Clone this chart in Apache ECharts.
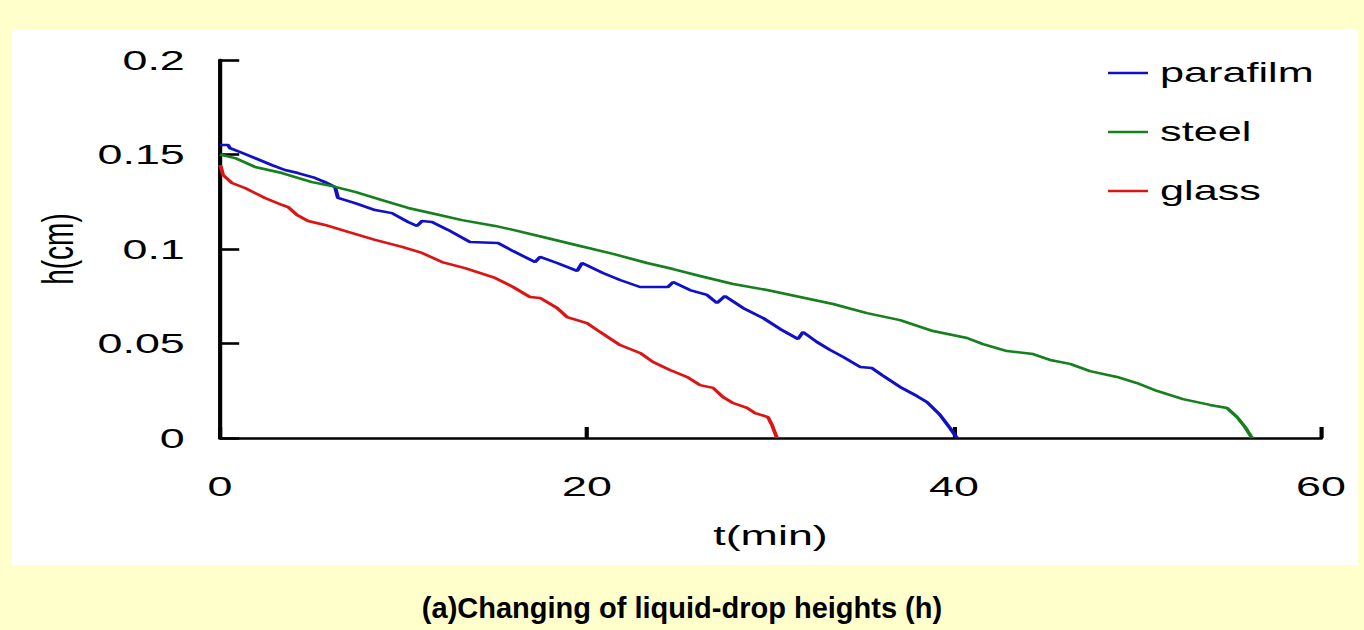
<!DOCTYPE html>
<html>
<head>
<meta charset="utf-8">
<script src="https://cdn.jsdelivr.net/npm/echarts@6/dist/echarts.min.js"></script>
<style>
  html, body { margin: 0; padding: 0; width: 1364px; height: 630px; background: #FFFFCC; overflow: hidden; }
  #panel { position: absolute; left: 12px; top: 29px; width: 1346px; height: 536px; background: #FFFFFF; }
  #chart { position: absolute; left: 0; top: 0; width: 852px; height: 630px; transform-origin: 0 0; }
  #caption { position: absolute; left: 0; top: 565px; width: 1364px; height: 65px; }
</style>
</head>
<body>
<div id="panel"></div>
<div id="chart"></div>
<div id="caption"></div>
<script>
// Drop height h (cm) against time t (min) for three surfaces
const seriesNames = ['parafilm', 'steel', 'glass'];

const parafilmT = [0, 0.44, 0.54, 1.09, 1.91, 2.83, 3.54, 4.25, 5.18, 5.72, 6.27, 6.43, 7.36, 8.45, 9.37, 10.25, 10.74, 11.01, 11.55, 12.43, 13.62, 15.15, 15.97, 17.17, 17.44, 18.37, 19.46, 19.73, 20.87, 21.80, 22.89, 24.41, 24.69, 25.61, 26.54, 27.08, 27.52, 28.50, 29.59, 30.52, 31.50, 31.77, 32.53, 33.24, 33.95, 34.88, 35.53, 36.08, 37.06, 37.98, 38.53, 39.24, 39.78, 40.16];
const parafilmH = [0.155, 0.155, 0.1534, 0.1513, 0.1481, 0.1444, 0.1418, 0.1402, 0.1376, 0.1354, 0.1328, 0.1270, 0.1243, 0.1206, 0.1190, 0.1143, 0.1122, 0.1148, 0.1143, 0.1101, 0.1037, 0.1032, 0.0989, 0.0931, 0.0958, 0.0926, 0.0884, 0.0926, 0.0873, 0.0836, 0.0799, 0.0799, 0.0825, 0.0783, 0.0757, 0.0714, 0.0751, 0.0688, 0.0635, 0.0577, 0.0524, 0.0561, 0.0508, 0.0466, 0.0429, 0.0376, 0.0370, 0.0333, 0.0270, 0.0222, 0.0190, 0.0122, 0.0053, 0];

const steelT = [0, 0.82, 1.91, 3.38, 5.01, 6.10, 7.36, 8.83, 10.25, 11.72, 13.19, 14.99, 15.97, 17.82, 19.62, 21.42, 23.27, 24.69, 26.16, 27.96, 29.81, 31.61, 33.41, 35.26, 37.06, 38.86, 40.71, 41.58, 42.89, 44.31, 45.23, 46.32, 47.41, 48.88, 49.97, 51.06, 52.48, 53.95, 54.88, 55.42, 55.86, 56.24];
const steelH = [0.150, 0.1481, 0.1434, 0.1402, 0.1354, 0.1333, 0.1302, 0.1259, 0.1217, 0.1185, 0.1153, 0.1122, 0.1101, 0.1058, 0.1016, 0.0974, 0.0926, 0.0894, 0.0857, 0.0815, 0.0783, 0.0746, 0.0709, 0.0661, 0.0624, 0.0566, 0.0529, 0.0497, 0.0460, 0.0444, 0.0413, 0.0392, 0.0354, 0.0323, 0.0291, 0.0249, 0.0206, 0.0175, 0.0159, 0.0111, 0.0058, 0];

const glassT = [0, 0.05, 0.16, 0.65, 1.36, 2.45, 3.38, 3.71, 4.20, 4.80, 5.72, 6.98, 8.45, 9.92, 11.01, 12.10, 13.35, 14.99, 15.97, 16.89, 17.44, 18.37, 18.91, 20.00, 20.71, 21.80, 22.89, 23.60, 24.52, 25.45, 26.16, 26.87, 27.41, 27.96, 28.72, 29.16, 29.86, 30.08, 30.35];
const glassH = [0.1444, 0.1434, 0.1392, 0.1349, 0.1323, 0.1270, 0.1233, 0.1222, 0.1180, 0.1148, 0.1127, 0.1090, 0.1048, 0.1011, 0.0979, 0.0931, 0.0899, 0.0847, 0.0799, 0.0746, 0.0741, 0.0688, 0.0640, 0.0608, 0.0561, 0.0492, 0.0450, 0.0402, 0.0360, 0.0323, 0.0280, 0.0265, 0.0217, 0.0185, 0.0159, 0.0132, 0.0111, 0.0069, 0];

const xTicks = [0, 20, 40, 60];
const yTicks = [0, 0.05, 0.1, 0.15, 0.2];
const captionText = '(a)Changing of liquid-drop heights (h)';

// The plot is laid out narrow and widened horizontally
const chartEl = document.getElementById('chart');
const localW = 852;
const K = 1364 / localW;
chartEl.style.transform = 'scaleX(' + K + ')';

const zip = (ts, hs) => ts.map((t, i) => [t, hs[i]]);
const colors = ['#1010C8', '#16801E', '#DC1414'];
const FONT = "'Liberation Sans', Arial, sans-serif";

const chart = echarts.init(chartEl, null, { renderer: 'svg', width: localW, height: 630 });
chart.setOption({
  animation: false,
  color: colors,
  grid: { left: 220 / K, right: localW - 1321 / K, top: 60, bottom: 192, containLabel: false },
  legend: {
    orient: 'vertical',
    left: 1108 / K,
    top: 58,
    padding: 0,
    itemWidth: 25,
    itemHeight: 2.5,
    itemGap: 29,
    icon: 'rect',
    data: seriesNames,
    textStyle: { fontFamily: FONT, fontSize: 27, color: '#000', lineHeight: 30, padding: [0, 0, 0, 2.5] }
  },
  xAxis: {
    type: 'value',
    min: xTicks[0],
    max: xTicks[xTicks.length - 1],
    interval: 20,
    name: 't(min)',
    nameLocation: 'middle',
    nameGap: 83,
    nameTextStyle: { fontFamily: FONT, fontSize: 28, color: '#000' },
    axisLine: { show: true, onZero: false, lineStyle: { color: '#000', width: 2.6 } },
    axisTick: { show: true, inside: true, length: 11, lineStyle: { color: '#000', width: 2.6 } },
    axisLabel: { fontFamily: FONT, fontSize: 28, color: '#000', margin: 34 },
    splitLine: { show: false }
  },
  yAxis: {
    type: 'value',
    min: yTicks[0],
    max: yTicks[yTicks.length - 1],
    interval: 0.05,
    name: 'h(cm)',
    nameLocation: 'middle',
    nameGap: 85,
    nameRotate: 90,
    nameTextStyle: { fontFamily: FONT, fontSize: 28, color: '#000' },
    axisLine: { show: true, lineStyle: { color: '#000', width: 2.6 } },
    axisTick: { show: true, inside: true, length: 12, lineStyle: { color: '#000', width: 2.6 } },
    axisLabel: { fontFamily: FONT, fontSize: 28, color: '#000', margin: 22,
      formatter: v => String(Math.round(v * 100) / 100) },
    splitLine: { show: false }
  },
  series: [
    { name: seriesNames[0], type: 'line', data: zip(parafilmT, parafilmH), showSymbol: false, lineStyle: { width: 2.5 } },
    { name: seriesNames[1], type: 'line', data: zip(steelT, steelH), showSymbol: false, lineStyle: { width: 2.5 } },
    { name: seriesNames[2], type: 'line', data: zip(glassT, glassH), showSymbol: false, lineStyle: { width: 2.5 } }
  ]
});

// Caption in the band below the plot
const cap = echarts.init(document.getElementById('caption'), null, { renderer: 'svg', width: 1364, height: 65 });
cap.setOption({
  animation: false,
  title: {
    text: captionText,
    left: 'center',
    top: 28,
    padding: 0,
    textStyle: { fontFamily: FONT, fontSize: 29, fontWeight: 'bold', color: '#000' }
  }
});
</script>
</body>
</html>
